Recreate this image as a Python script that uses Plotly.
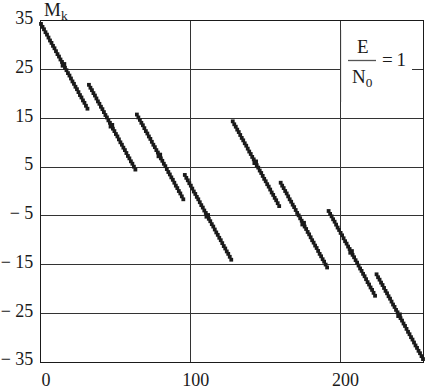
import plotly.graph_objects as go

# k index (0..255) and M_k values, in 8 runs of 32
k = list(range(256))
seg1 = [34.4, 33.8, 33.3, 32.7, 32.2, 31.6, 31.0, 30.5, 29.9, 29.4, 28.8, 28.2, 27.7, 27.1, 26.6, 26.0,
        25.4, 24.9, 24.3, 23.8, 23.2, 22.6, 22.1, 21.5, 21.0, 20.4, 19.8, 19.3, 18.7, 18.2, 17.6, 17.0]
seg2 = [21.9, 21.3, 20.8, 20.2, 19.7, 19.1, 18.5, 18.0, 17.4, 16.9, 16.3, 15.7, 15.2, 14.6, 14.1, 13.5,
        12.9, 12.4, 11.8, 11.3, 10.7, 10.1, 9.6, 9.0, 8.5, 7.9, 7.3, 6.8, 6.2, 5.7, 5.1, 4.5]
seg3 = [15.8, 15.2, 14.7, 14.1, 13.6, 13.0, 12.4, 11.9, 11.3, 10.8, 10.2, 9.6, 9.1, 8.5, 8.0, 7.4,
        6.8, 6.3, 5.7, 5.2, 4.6, 4.0, 3.5, 2.9, 2.4, 1.8, 1.2, 0.7, 0.1, -0.4, -1.0, -1.6]
seg4 = [3.4, 2.8, 2.3, 1.7, 1.2, 0.6, 0.0, -0.5, -1.1, -1.6, -2.2, -2.8, -3.3, -3.9, -4.4, -5.0,
        -5.6, -6.1, -6.7, -7.2, -7.8, -8.4, -8.9, -9.5, -10.0, -10.6, -11.2, -11.7, -12.3, -12.8, -13.4, -14.0]
seg5 = [14.4, 13.8, 13.3, 12.7, 12.2, 11.6, 11.0, 10.5, 9.9, 9.4, 8.8, 8.2, 7.7, 7.1, 6.6, 6.0,
        5.4, 4.9, 4.3, 3.8, 3.2, 2.6, 2.1, 1.5, 1.0, 0.4, -0.2, -0.7, -1.3, -1.8, -2.4, -3.0]
seg6 = [1.8, 1.2, 0.7, 0.1, -0.4, -1.0, -1.6, -2.1, -2.7, -3.2, -3.8, -4.4, -4.9, -5.5, -6.0, -6.6,
        -7.2, -7.7, -8.3, -8.8, -9.4, -10.0, -10.5, -11.1, -11.6, -12.2, -12.8, -13.3, -13.9, -14.4, -15.0, -15.6]
seg7 = [-4.0, -4.6, -5.1, -5.7, -6.2, -6.8, -7.4, -7.9, -8.5, -9.0, -9.6, -10.2, -10.7, -11.3, -11.8, -12.4,
        -13.0, -13.5, -14.1, -14.6, -15.2, -15.8, -16.3, -16.9, -17.4, -18.0, -18.6, -19.1, -19.7, -20.2, -20.8, -21.4]
seg8 = [-17.0, -17.6, -18.1, -18.7, -19.2, -19.8, -20.4, -20.9, -21.5, -22.0, -22.6, -23.2, -23.7, -24.3, -24.8, -25.4,
        -26.0, -26.5, -27.1, -27.6, -28.2, -28.8, -29.3, -29.9, -30.4, -31.0, -31.6, -32.1, -32.7, -33.2, -33.8, -34.4]
M = seg1 + seg2 + seg3 + seg4 + seg5 + seg6 + seg7 + seg8

# indices where the points cluster into a visible blob
blob_k = [15, 47, 79, 111, 143, 175, 207, 239]

y_ticks = [35, 25, 15, 5, -5, -15, -25, -35]
y_ticktext = ["35", "25", "15", "5", "\u2212 5", "\u2212 15", "\u2212 25", "\u2212 35"]
x_ticks = [0, 100, 200]
x_ticktext = ["0", "100", "200"]

FONT = "Liberation Serif, Times New Roman, serif"
INK = "#1a1a1a"

fig = go.Figure()
fig.add_trace(go.Scatter(x=k, y=M, mode="markers", cliponaxis=False,
                         marker=dict(symbol="square", size=3.8, color=INK, line=dict(width=0)),
                         showlegend=False, hoverinfo="skip"))
fig.add_trace(go.Scatter(x=blob_k, y=[M[i] for i in blob_k], mode="markers", cliponaxis=False,
                         marker=dict(symbol="square", size=5.5, color=INK, line=dict(width=0)),
                         showlegend=False, hoverinfo="skip"))

def px2x(px):
    return (px - 41) / (382 / 255)

def py2y(py):
    return 35 - (py - 21) / (341 / 70)

# white box behind the E/N0 label (covers grid), then restore the x=200 grid line
fig.add_shape(type="rect", xref="x", yref="y", x0=200, x1=px2x(412), y0=py2y(102), y1=py2y(30),
              fillcolor="white", line=dict(width=0), layer="between")
fig.add_shape(type="line", xref="x", yref="y", x0=200, x1=200, y0=py2y(102), y1=py2y(30),
              line=dict(color="#333", width=1), layer="between")
# fraction bar
fig.add_shape(type="line", xref="x", yref="y", x0=px2x(348), x1=px2x(376), y0=py2y(60.5), y1=py2y(60.5),
              line=dict(color="#555", width=1.3), layer="above")

ann = dict(showarrow=False, font=dict(family=FONT, size=19, color=INK), xref="x", yref="y")
fig.add_annotation(text="E", x=px2x(362.5), y=py2y(46.5), **ann)
fig.add_annotation(text="N<sub>0</sub>", x=px2x(362), y=py2y(78), **ann)
fig.add_annotation(text="=\u20091", x=px2x(394), y=py2y(59), **ann)
fig.add_annotation(text="M<sub><span style='color:#1a1a1a'>k</span></sub>", xref="paper", yref="paper",
                   x=px2x(42) / 255, y=1, xanchor="left", yanchor="bottom", yshift=-4,
                   showarrow=False, font=dict(family=FONT, size=19, color=INK))
fig.add_annotation(text="k", x=px2x(433), y=py2y(315), showarrow=False, xref="x", yref="y",
                   font=dict(family=FONT, size=19, color=INK))

axis_common = dict(showline=True, linecolor=INK, linewidth=1.2, mirror=True, automargin=False,
                   showgrid=True, gridcolor="#333", gridwidth=1, zeroline=False,
                   ticks="", tickfont=dict(family=FONT, size=18, color=INK))
fig.update_xaxes(range=[0, 255], tickvals=x_ticks, ticktext=x_ticktext,
                 ticklabelshift=5, ticklabelstandoff=1, **axis_common)
fig.update_yaxes(range=[-35, 35], tickvals=y_ticks, ticktext=y_ticktext,
                 ticklabelshift=-3, ticklabelstandoff=3, **axis_common)

fig.update_layout(width=440, height=389, margin=dict(l=41, r=17, t=21, b=27),
                  paper_bgcolor="white", plot_bgcolor="white",
                  font=dict(family=FONT, color=INK))
fig.write_html("out.html", config={"displayModeBar": False},
               post_script="document.body.style.margin='0px';")
